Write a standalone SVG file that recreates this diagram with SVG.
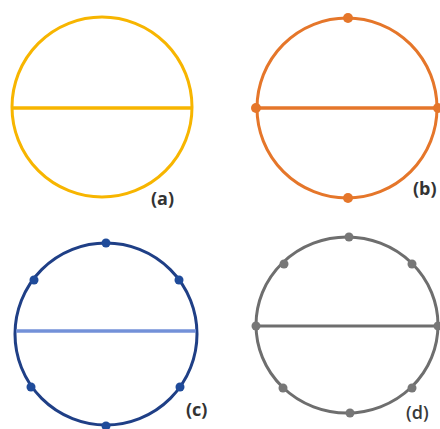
<svg xmlns="http://www.w3.org/2000/svg" width="440" height="429" viewBox="0 0 440 429">
<style>
.c{fill:none;stroke-width:3}
.l{font-family:"Open Sans","Liberation Sans",sans-serif;font-weight:bold;font-size:18px;fill:#333}
.a{stroke:#f7b500}
.b{stroke:#e5762a}
.bd{fill:#e5762a}
.cc{stroke:#1f3f86}
.cl{stroke:#7391d8}
.cd{fill:#1f4b9a}
.d{stroke:#6e6e6e}
.dd{fill:#777}
</style>
<rect width="440" height="429" fill="#fff"/>
<g id="a">
<circle class="c a" cx="102" cy="107" r="90"/>
<line class="a" x1="12" y1="108" x2="192" y2="108" stroke-width="3.5"/>
<text class="l" x="151" y="205">(a)</text>
</g>
<g id="b">
<circle class="c b" cx="347" cy="108" r="90"/>
<line class="b" x1="257" y1="108" x2="437" y2="108" stroke-width="3.5"/>
<circle class="bd" cx="348" cy="18" r="5"/>
<circle class="bd" cx="348" cy="198" r="5"/>
<circle class="bd" cx="256" cy="108" r="5"/>
<circle class="bd" cx="438" cy="108" r="5"/>
<text class="l" x="413" y="195">(b)</text>
</g>
<g id="c">
<circle class="c cc" cx="106" cy="334" r="91"/>
<line class="cl" x1="16" y1="331" x2="196" y2="331" stroke-width="3.5"/>
<circle class="cd" cx="106" cy="243" r="4.5"/>
<circle class="cd" cx="34" cy="280" r="4.5"/>
<circle class="cd" cx="179" cy="280" r="4.5"/>
<circle class="cd" cx="31" cy="387" r="4.5"/>
<circle class="cd" cx="180" cy="387" r="4.5"/>
<circle class="cd" cx="106" cy="426" r="4.5"/>
<text class="l" x="186" y="416">(c)</text>
</g>
<g id="d">
<ellipse class="c d" cx="347" cy="325" rx="91" ry="88"/>
<line class="d" x1="256" y1="326" x2="438" y2="326" stroke-width="3"/>
<circle class="dd" cx="349" cy="237" r="4.5"/>
<circle class="dd" cx="284" cy="264" r="4.5"/>
<circle class="dd" cx="412" cy="264" r="4.5"/>
<circle class="dd" cx="256" cy="326" r="4.5"/>
<circle class="dd" cx="438" cy="326" r="4.5"/>
<circle class="dd" cx="283" cy="388" r="4.5"/>
<circle class="dd" cx="412" cy="388" r="4.5"/>
<circle class="dd" cx="350" cy="413" r="4.5"/>
<text class="l" x="406" y="419" style="font-weight:600;fill:#3a3a3a">(d)</text>
</g>
</svg>
